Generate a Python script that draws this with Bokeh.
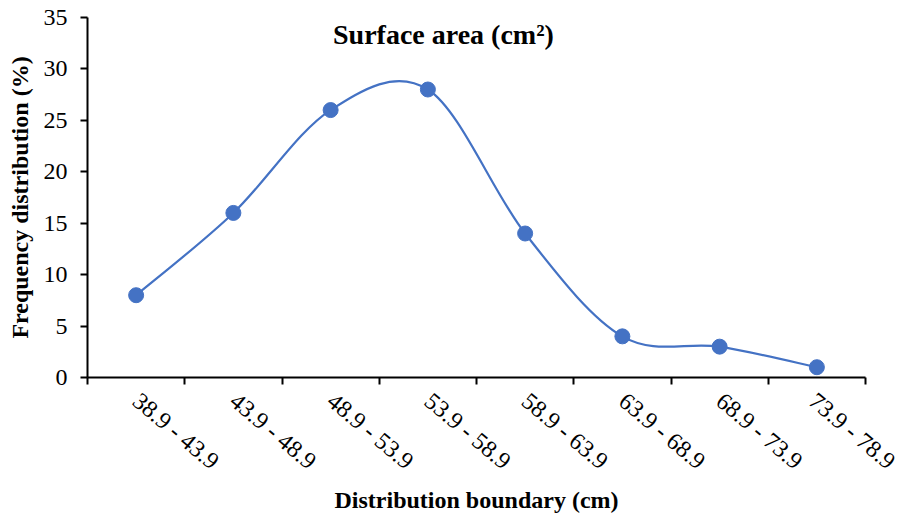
import math
from bokeh.plotting import figure
from bokeh.models import FixedTicker, Range1d, Label
from bokeh.embed import file_html
from bokeh.resources import INLINE

categories = ["38.9 - 43.9", "43.9 - 48.9", "48.9 - 53.9", "53.9 - 58.9",
              "58.9 - 63.9", "63.9 - 68.9", "68.9 - 73.9", "73.9 - 78.9"]
frequency = [8, 16, 26, 28, 14, 4, 3, 1]
y_ticks = [0, 5, 10, 15, 20, 25, 30, 35]

FONT = "Liberation Serif"
BLUE = "#4472C4"

n = len(categories)
xs = [i + 0.5 for i in range(n)]

p = figure(width=900, height=516, output_backend="svg", toolbar_location=None,
           x_range=Range1d(0, n), y_range=Range1d(0, 35),
           min_border_left=87, min_border_right=35, min_border_top=17, min_border_bottom=139)
p.outline_line_color = None
p.grid.visible = False
p.background_fill_color = "white"
p.border_fill_color = "white"

# Smoothed line (Catmull-Rom style Bezier segments, as spreadsheet smoothing)
x0, y0, x1, y1, cx0, cy0, cx1, cy1 = [], [], [], [], [], [], [], []
for i in range(n - 1):
    pa = (xs[i - 1], frequency[i - 1]) if i > 0 else (xs[i], frequency[i])
    pb = (xs[i], frequency[i])
    pc = (xs[i + 1], frequency[i + 1])
    pd = (xs[i + 2], frequency[i + 2]) if i + 2 < n else (xs[i + 1], frequency[i + 1])
    x0.append(pb[0]); y0.append(pb[1]); x1.append(pc[0]); y1.append(pc[1])
    cx0.append(pb[0] + (pc[0] - pa[0]) / 6); cy0.append(pb[1] + (pc[1] - pa[1]) / 6)
    cx1.append(pc[0] - (pd[0] - pb[0]) / 6); cy1.append(pc[1] - (pd[1] - pb[1]) / 6)
p.bezier(x0=x0, y0=y0, x1=x1, y1=y1, cx0=cx0, cy0=cy0, cx1=cx1, cy1=cy1,
         line_color=BLUE, line_width=2.2)
p.scatter(xs, frequency, size=15, fill_color=BLUE, line_color=BLUE)

# X axis
xa = p.xaxis[0]
xa.ticker = FixedTicker(ticks=xs, minor_ticks=list(range(n + 1)))
xa.major_label_overrides = {x: c for x, c in zip(xs, categories)}
xa.major_tick_line_color = None
xa.major_tick_out = 0
xa.major_tick_in = 0
xa.minor_tick_in = 0
xa.minor_tick_out = 7
xa.minor_tick_line_color = "black"
xa.minor_tick_line_width = 2
xa.axis_line_color = "black"
xa.axis_line_width = 2
xa.major_label_orientation = -math.radians(40)
xa.major_label_text_font = FONT
xa.major_label_text_font_size = "24px"
xa.major_label_text_color = "black"
xa.major_label_standoff = 13
xa.axis_label = "Distribution boundary (cm)"
xa.axis_label_text_font = FONT
xa.axis_label_text_font_style = "bold"
xa.axis_label_text_font_size = "24px"
xa.axis_label_text_color = "black"
xa.axis_label_standoff = 0

# Y axis
ya = p.yaxis[0]
ya.ticker = FixedTicker(ticks=y_ticks)
ya.major_tick_in = 0
ya.major_tick_out = 7
ya.major_tick_line_width = 2
ya.major_tick_line_color = "black"
ya.minor_tick_line_color = None
ya.axis_line_color = "black"
ya.axis_line_width = 2
ya.major_label_text_font = FONT
ya.major_label_text_font_size = "24px"
ya.major_label_text_color = "black"
ya.major_label_standoff = 13
ya.axis_label = "Frequency distribution (%)"
ya.axis_label_text_font = FONT
ya.axis_label_text_font_style = "bold"
ya.axis_label_text_font_size = "24px"
ya.axis_label_text_color = "black"
ya.axis_label_standoff = 8

title = Label(x=3.66, y=33.3, text="Surface area (cm²)", text_font=FONT,
              text_font_style="bold", text_font_size="28px", text_align="center",
              text_baseline="middle", text_color="black")
p.add_layout(title)

open("out.html", "w").write(file_html(p, INLINE))
